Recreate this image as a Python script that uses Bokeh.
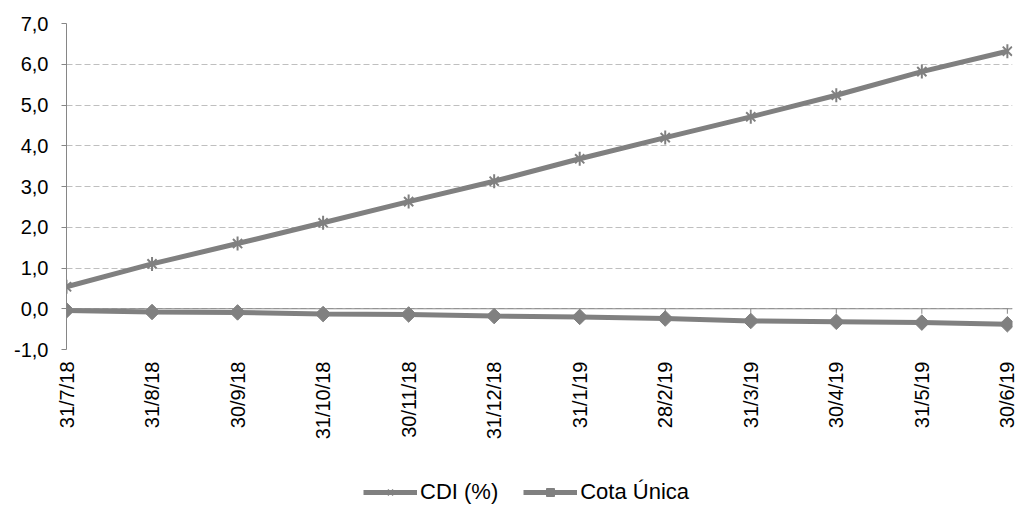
import numpy as np
from bokeh.plotting import figure
from bokeh.layouts import column
from bokeh.models import FixedTicker, Range1d, Legend, LegendItem, ColumnDataSource, Span
from bokeh.embed import file_html
from bokeh.resources import INLINE

dates = ['31/7/18', '31/8/18', '30/9/18', '31/10/18', '30/11/18', '31/12/18',
         '31/1/19', '28/2/19', '31/3/19', '30/4/19', '31/5/19', '30/6/19']
cdi = [0.54, 1.10, 1.60, 2.11, 2.63, 3.13, 3.68, 4.20, 4.71, 5.24, 5.82, 6.32]
cota = [-0.04, -0.08, -0.09, -0.13, -0.14, -0.18, -0.20, -0.24, -0.30, -0.32, -0.34, -0.38]
y_ticks = [-1, 0, 1, 2, 3, 4, 5, 6, 7]
series_names = ["CDI (%)", "Cota Única"]

idx = list(range(len(dates)))
src = ColumnDataSource(dict(x=idx, cdi=cdi, cota=cota, zero=[0] * len(idx)))

FONT = "Liberation Sans"
GRAY = "#808080"
AXIS = "#868686"


def add_series(fig):
    r1 = fig.line('x', 'cdi', source=src, line_color=GRAY, line_width=5)
    r1a = fig.scatter('x', 'cdi', source=src, marker="x", size=13, line_color=GRAY, line_width=2)
    r1b = fig.scatter('x', 'cdi', source=src, marker="dash", angle=np.pi / 2, size=14,
                      line_color=GRAY, line_width=2)
    r2 = fig.line('x', 'cota', source=src, line_color=GRAY, line_width=5)
    r2a = fig.scatter('x', 'cota', source=src, marker="square", angle=np.pi / 4, size=11,
                      fill_color=GRAY, line_color=GRAY)
    return [r1, r1a, r1b], [r2, r2a]


p = figure(width=1025, height=449, output_backend="svg", toolbar_location=None,
           x_range=Range1d(0, 11.06), y_range=Range1d(-1, 7),
           min_border_left=66, min_border_top=23, min_border_right=13, min_border_bottom=100,
           outline_line_color=None, background_fill_color="white", border_fill_color="white")

# y axis
ya = p.yaxis[0]
ya.ticker = FixedTicker(ticks=y_ticks)
ya.major_label_overrides = {v: f"{v:.1f}".replace('.', ',') for v in y_ticks}
ya.major_label_text_font = FONT
ya.major_label_text_font_size = "20px"
ya.major_label_text_color = "#000000"
ya.axis_line_color = AXIS
ya.major_tick_line_color = AXIS
ya.major_tick_out = 5
ya.major_tick_in = 0
ya.minor_tick_line_color = None
ya.major_label_standoff = 13

# x axis (labels only, at bottom)
xa = p.xaxis[0]
xa.ticker = FixedTicker(ticks=idx)
xa.major_label_overrides = {i: d for i, d in zip(idx, dates)}
xa.major_label_orientation = np.pi / 2
xa.major_label_text_font = FONT
xa.major_label_text_font_size = "20px"
xa.major_label_text_color = "#000000"
xa.axis_line_color = None
xa.major_tick_line_color = None
xa.minor_tick_line_color = None
xa.major_label_standoff = 6

# category axis line crossing at y = 0, with ticks pointing down
p.add_layout(Span(location=0, dimension="width", line_color=AXIS, line_width=1))
p.ray(x='x', y='zero', source=src, length=5, length_units="screen", angle=-np.pi / 2,
      line_color=AXIS, line_width=1)

p.xgrid.grid_line_color = None
p.ygrid.ticker = FixedTicker(ticks=y_ticks)
p.ygrid.grid_line_color = "#bfbfbf"
p.ygrid.grid_line_dash = "6 3"
p.ygrid.grid_line_width = 1

add_series(p)

# legend strip below the chart (its own copies of the series lie outside its view)
lp = figure(width=1025, height=58, output_backend="svg", toolbar_location=None,
            x_axis_location=None, y_axis_location=None,
            min_border=0, outline_line_color=None,
            x_range=Range1d(100, 101), y_range=Range1d(100, 101))
lp.grid.grid_line_color = None
leg1, leg2 = add_series(lp)

legend = Legend(items=[LegendItem(label=series_names[0], renderers=leg1),
                       LegendItem(label=series_names[1], renderers=leg2)],
                orientation="horizontal", location=(297, 2),
                label_text_font=FONT, label_text_font_size="22px", label_text_color="#000000",
                glyph_width=54, glyph_height=20, label_standoff=3, spacing=25,
                padding=2, margin=0, border_line_color=None, background_fill_alpha=0)
lp.add_layout(legend, "center")

layout = column(p, lp, spacing=0)
open("out.html", "w").write(file_html(layout, INLINE))
